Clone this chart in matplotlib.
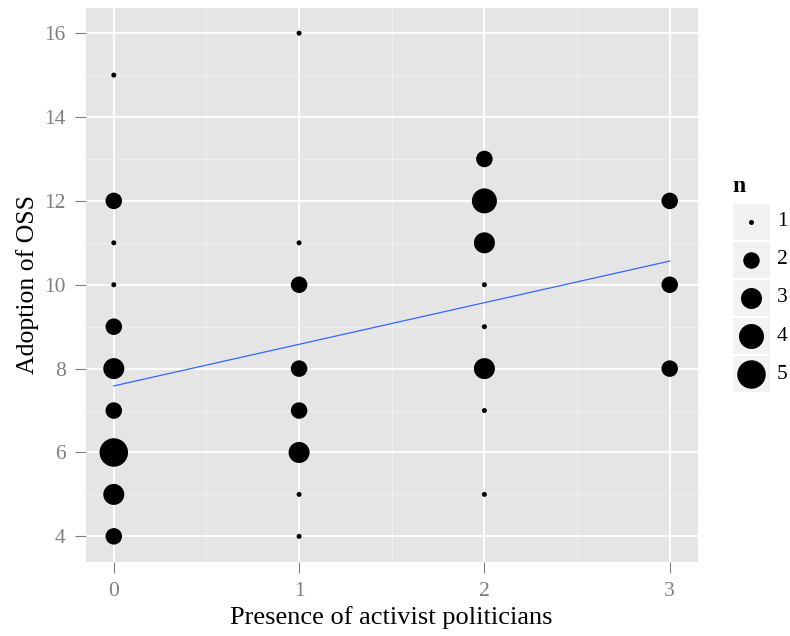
import numpy as np
import matplotlib
matplotlib.use("Agg")
import matplotlib.pyplot as plt
from matplotlib.patches import Rectangle
from matplotlib.ticker import MultipleLocator

# data: (activists, adoption, count)
x_vals = [0, 0, 0, 0, 0, 0, 0, 0, 0, 0,
          1, 1, 1, 1, 1, 1, 1, 1,
          2, 2, 2, 2, 2, 2, 2, 2,
          3, 3, 3]
y_vals = [15, 12, 11, 10, 9, 8, 7, 6, 5, 4,
          16, 11, 10, 8, 7, 6, 5, 4,
          13, 12, 11, 10, 9, 8, 7, 5,
          12, 10, 8]
n_vals = [1, 2, 1, 1, 2, 3, 2, 5, 3, 2,
          1, 1, 2, 2, 2, 3, 1, 1,
          2, 4, 3, 1, 1, 3, 1, 1,
          2, 2, 2]
legend_n = [1, 2, 3, 4, 5]

# marker diameters in pixels for each n
diam_px = {1: 5, 2: 16.5, 3: 21, 4: 25, 5: 28.5}

plt.rcParams['font.family'] = ['Liberation Serif', 'DejaVu Serif']

DPI = 100
W, H = 790, 636
fig = plt.figure(figsize=(W / DPI, H / DPI), dpi=DPI)


def box(l, t, r, b):
    return [l / W, 1 - b / H, (r - l) / W, (b - t) / H]


def area(n):
    return (diam_px[n] * 72 / DPI) ** 2


gray = "#7F7F7F"
ax = fig.add_axes(box(86, 8, 697.5, 561.5))
ax.set_facecolor("#E5E5E5")
for s in ax.spines.values():
    s.set_visible(False)

ax.set_xlim(-0.15, 3.15)
ax.set_ylim(3.4, 16.6)
ax.xaxis.set_major_locator(MultipleLocator(1))
ax.xaxis.set_minor_locator(MultipleLocator(0.5))
ax.yaxis.set_major_locator(MultipleLocator(2))
ax.yaxis.set_minor_locator(MultipleLocator(1))
ax.grid(which="major", color="white", lw=1.3)
ax.grid(which="minor", color="#F2F2F2", lw=0.6)
ax.set_axisbelow(True)
ax.tick_params(which="minor", length=0)
ax.tick_params(which="major", length=8, width=0.8, color=gray,
               labelcolor=gray, labelsize=15.5, pad=6.5)

ax.scatter(x_vals, y_vals, s=[area(n) for n in n_vals], c="black",
           linewidths=0, zorder=3)

# weighted linear fit
b1, b0 = np.polyfit(x_vals, y_vals, 1, w=np.sqrt(n_vals))
xs = np.array([0, 3])
ax.plot(xs, b0 + b1 * xs, color="#3366FF", lw=0.9, zorder=4)

ax.set_xlabel("Presence of activist politicians", fontsize=19, labelpad=4)
ax.set_ylabel("Adoption of OSS", fontsize=18.5, labelpad=4)

# legend
lax = fig.add_axes(box(732.7, 202.7, 770, 393.3))
lax.set_xlim(0, 1)
lax.set_ylim(len(legend_n), 0)
lax.axis("off")
for i, n in enumerate(legend_n):
    lax.add_patch(Rectangle((0, i + 0.03), 1, 0.94, facecolor="#F2F2F2",
                            edgecolor="none"))
    lax.scatter([0.5], [i + 0.5], s=area(n), c="black", linewidths=0)
    lax.text(1.19, i + 0.5, str(n), fontsize=15.5, va="center", ha="left")
lax.text(0.0, -0.42, "n", fontsize=17, fontweight="bold", va="center",
         ha="left")

fig.savefig("out.png", dpi=DPI)
